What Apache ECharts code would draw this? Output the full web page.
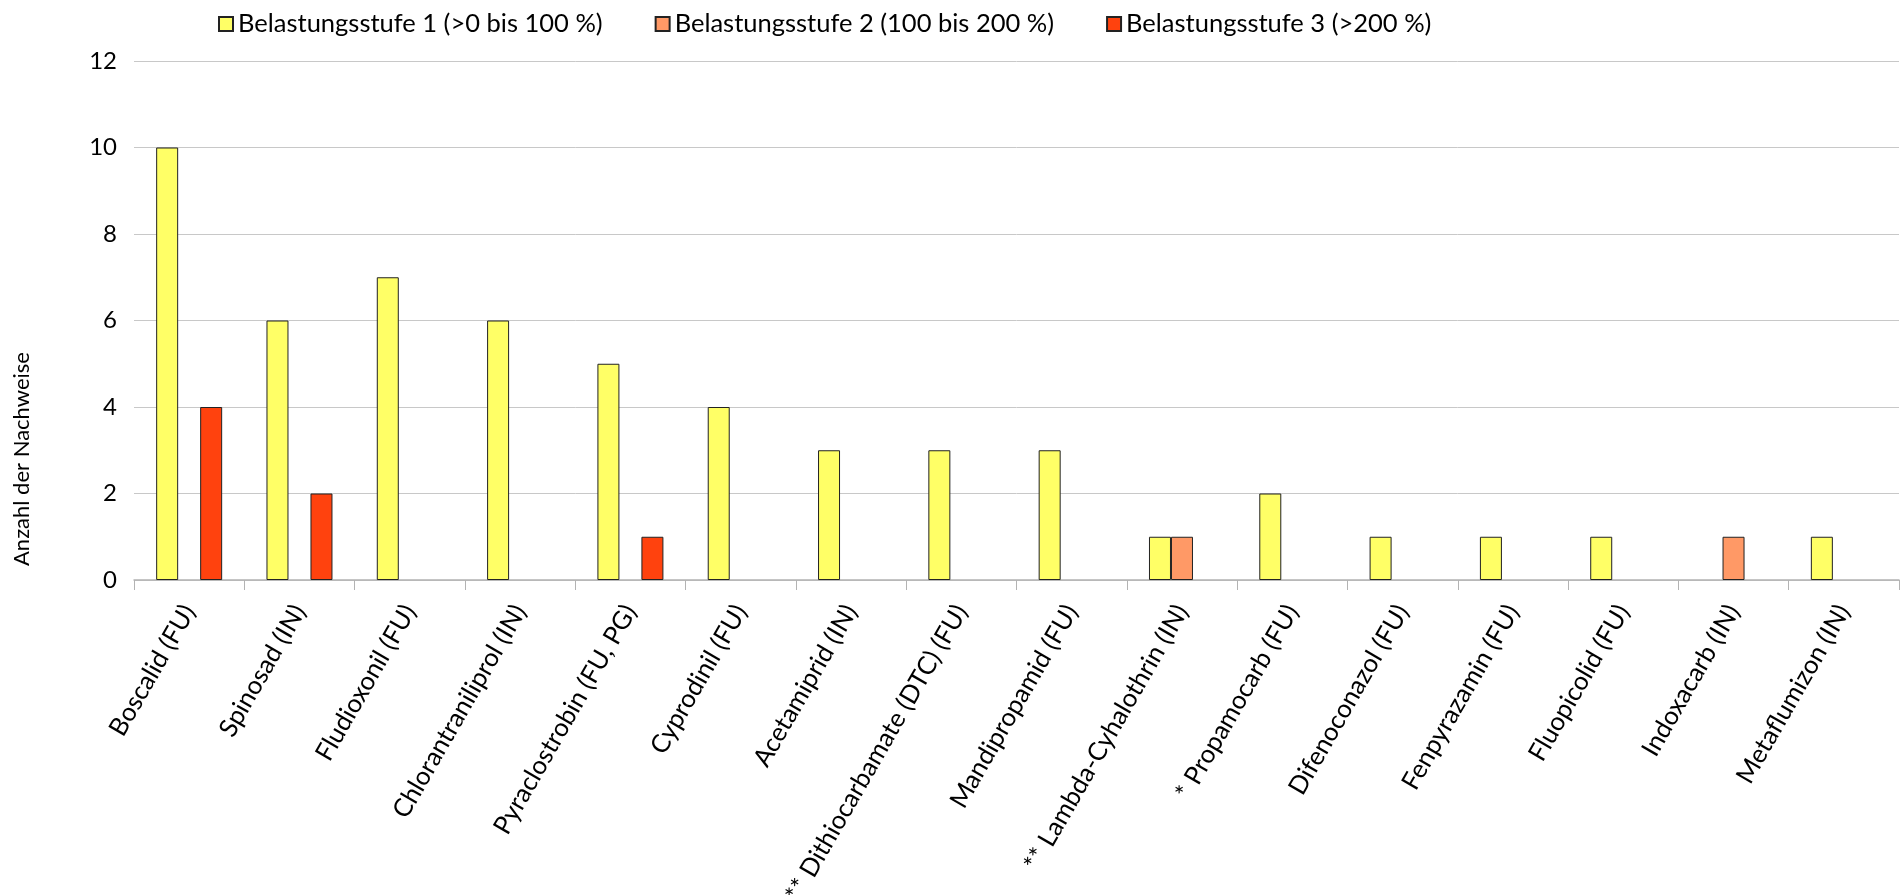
<!DOCTYPE html>
<html>
<head>
<meta charset="utf-8">
<script src="https://cdn.jsdelivr.net/npm/echarts@6/dist/echarts.min.js"></script>
<style>html,body{margin:0;padding:0;background:#fff;}#c{width:1901px;height:895px;}</style>
</head>
<body>
<div id="c"></div>
<script>
const categories = ["Boscalid (FU)", "Spinosad (IN)", "Fludioxonil (FU)", "Chlorantraniliprol (IN)", "Pyraclostrobin (FU, PG)", "Cyprodinil (FU)", "Acetamiprid (IN)", "** Dithiocarbamate (DTC) (FU)", "Mandipropamid (FU)", "** Lambda-Cyhalothrin (IN)", "* Propamocarb (FU)", "Difenoconazol (FU)", "Fenpyrazamin (FU)", "Fluopicolid (FU)", "Indoxacarb (IN)", "Metaflumizon (IN)"];
const stufe1 = [10, 6, 7, 6, 5, 4, 3, 3, 3, 1, 2, 1, 1, 1, 0, 1];
const stufe2 = [0, 0, 0, 0, 0, 0, 0, 0, 0, 1, 0, 0, 0, 0, 1, 0];
const stufe3 = [4, 2, 0, 0, 1, 0, 0, 0, 0, 0, 0, 0, 0, 0, 0, 0];
const seriesNames = ["Belastungsstufe 1 (>0 bis 100 %)", "Belastungsstufe 2 (100 bis 200 %)", "Belastungsstufe 3 (>200 %)"];
const colors = ["#ffff66", "#ff9966", "#ff420e"];
const yTicks = [0, 2, 4, 6, 8, 10, 12];
const yName = "Anzahl der Nachweise";

const FONT = "Lato";
const chart = echarts.init(document.getElementById('c'), null, {renderer: 'canvas'});
const toData = arr => arr.map(v => v === 0 ? '-' : v);
const allSeries = [stufe1, stufe2, stufe3].map((arr, i) => ({
  name: seriesNames[i],
  type: 'bar',
  data: toData(arr),
  barWidth: 22,
  barGap: '0%',
  itemStyle: {color: colors[i], borderColor: '#222', borderWidth: 1},
  emphasis: {disabled: true}
}));
chart.setOption({
  animation: false,
  textStyle: {fontFamily: FONT},
  legend: {
    top: 6, left: 213, icon: 'rect',
    itemWidth: 14, itemHeight: 14, itemGap: 52,
    textStyle: {fontFamily: FONT, fontSize: 25.5, color: '#000'},
    data: seriesNames
  },
  grid: {left: 134, right: 2, top: 61, bottom: 315, containLabel: false, outerBoundsMode: 'none'},
  xAxis: {
    type: 'category',
    data: categories,
    axisLine: {lineStyle: {color: '#b3b3b3', width: 1.5}},
    axisTick: {show: true, length: 10, lineStyle: {color: '#b3b3b3'}},
    axisLabel: {rotate: 60, margin: 27, interval: 0, fontFamily: FONT, fontSize: 25.5, color: '#000'}
  },
  yAxis: {
    type: 'value', min: yTicks[0], max: yTicks[yTicks.length - 1], interval: 2,
    axisLine: {show: false}, axisTick: {show: false},
    splitLine: {lineStyle: {color: '#c8c8c8', width: 1}},
    axisLabel: {margin: 17, fontFamily: FONT, fontSize: 24, color: '#000'}
  },
  graphic: [{
    type: 'text', x: 22, y: 459, rotation: Math.PI / 2,
    style: {text: yName, fontFamily: FONT, fontSize: 22, fill: '#000', align: 'center', verticalAlign: 'middle'}
  }],
  series: allSeries
});
</script>
</body>
</html>
